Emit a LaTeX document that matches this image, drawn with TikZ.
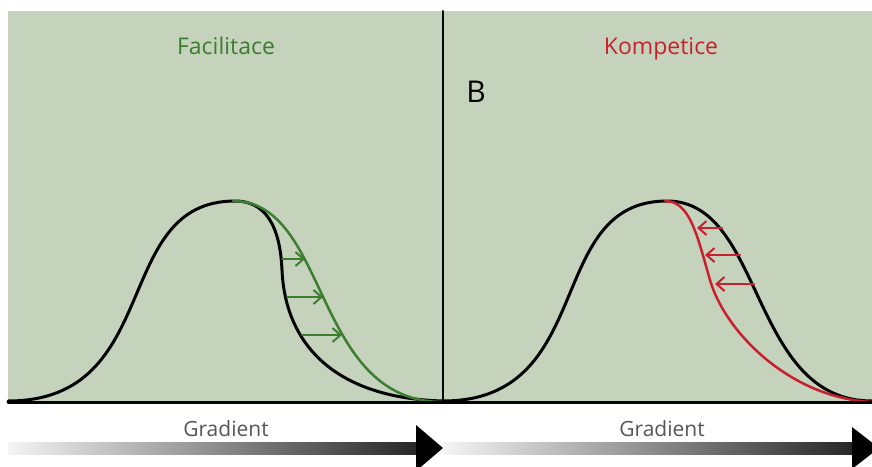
\documentclass[tikz,border=0pt]{standalone}
\usepackage{fontspec}
\setmainfont{Open Sans}
\usepackage{tikz}
\usetikzlibrary{arrows.meta}
\definecolor{panelbg}{RGB}{197, 211, 188}
\definecolor{facilink}{RGB}{61, 125, 48}
\definecolor{kompink}{RGB}{200, 32, 46}
\definecolor{gradink}{RGB}{85, 85, 85}

\begin{document}
\begin{tikzpicture}[x=1pt, y=-1pt, line cap=round, >={Straight Barb[length=8pt, width=14pt]}]
  \useasboundingbox (0,0) rectangle (872,466);
  \clip (0,0) rectangle (872,466);
  % panels
  \fill[panelbg] (8,11) rectangle (872,402);
  \draw[line width=2pt] (443,11) -- (443,402);
  \node[facilink, font=\fontsize{23}{26}\selectfont, anchor=base] (facil) at (226,54) {Facilitace};
  \node[kompink, font=\fontsize{23}{26}\selectfont, anchor=base] (komp) at (661,54) {Kompetice};
  \node[font=\fontsize{30}{34}\selectfont, anchor=base] (panelB) at (476,102) {B};
  % facilitation: niche stretched to the right
  \draw[line width=3pt] (8,401) .. controls (165,401) and (110,201) .. (235,201)
    .. controls (265,201) and (280,225) .. (282,270)
    .. controls (285,340) and (330,398) .. (443,401);
  \draw[line width=2.5pt, facilink] (233,201) .. controls (330,201) and (312,402) .. (443,402);
  \foreach \y/\a/\b in {259/282/305, 297/287/323, 335/302/342}
    \draw[line width=2pt, facilink, ->] (\a,\y) -- (\b,\y);
  % competition: niche squeezed to the left
  \draw[line width=3pt] (443,401) .. controls (598,401) and (543,201) .. (667,201)
    .. controls (765,201) and (749,401) .. (872,401);
  \draw[line width=2.5pt, kompink] (665,201) .. controls (690,201) and (697,235) .. (710,280)
    .. controls (725,332) and (790,398) .. (872,402);
  \foreach \y/\a/\b in {228/722/697, 255/740/705, 284/754/715}
    \draw[line width=2pt, kompink, ->] (\a,\y) -- (\b,\y);
  \draw[line width=3pt] (8,402) -- (872,402);
  % gradient arrows
  \shade[left color=white!96!black, right color=black!85] (8,442) rectangle (418,454);
  \fill (416,425) -- (443,448) -- (416,471) -- cycle;
  \shade[left color=white!96!black, right color=black!85] (443,442) rectangle (854,454);
  \fill (852,427) -- (879,448) -- (852,469) -- cycle;
  \node[gradink, font=\fontsize{21}{24}\selectfont, anchor=base] (gradL) at (226,436) {Gradient};
  \node[gradink, font=\fontsize{21}{24}\selectfont, anchor=base] (gradR) at (662,436) {Gradient};
\end{tikzpicture}
\end{document}
